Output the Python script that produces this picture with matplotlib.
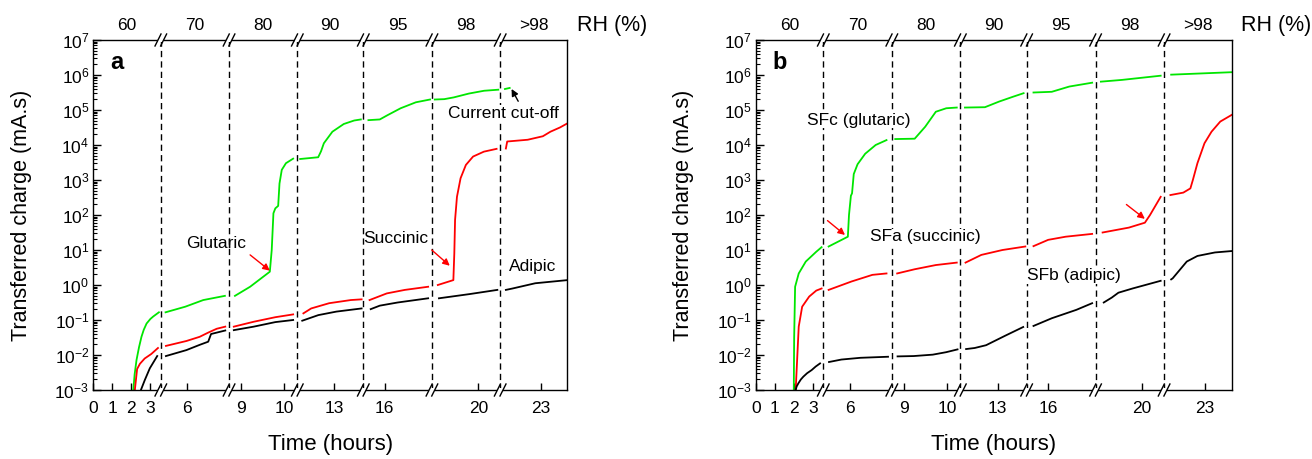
import numpy as np
import matplotlib.pyplot as plt
from matplotlib.ticker import LogLocator, NullFormatter
from matplotlib.transforms import blended_transform_factory
from matplotlib.patches import Rectangle

plt.rcParams['font.family'] = ['Liberation Sans', 'DejaVu Sans']
plt.rcParams['mathtext.default'] = 'regular'

nan = np.nan

# 分段横轴（显示单位），每段对应一个湿度台阶
rh_labels = ['60', '70', '80', '90', '95', '98', '>98']
seg_edges = [0, 3.55, 7.15, 10.75, 14.23, 17.85, 21.45, 25.0]
time_ticks = [0, 1, 2, 3, 4.95, 7.8, 10.05, 12.7, 15.35, 20.3, 23.6]
time_labels = ['0', '1', '2', '3', '6', '9', '10', '13', '16', '20', '23']

# 图 a：log10(转移电荷)，nan 处断开
a_glut_x = [2.1, 2.17, 2.27, 2.4, 2.53, 2.65, 2.8, 3.0, 3.15, 3.45, nan,
            3.8, 4.84, 5.79, 6.93, nan,
            7.46, 8.26, 9.3, 9.4, 9.49, 9.59, 9.74, 9.81, 9.93, 10.15, 10.53, nan,
            10.9, 11.85, 12.0, 12.15, 12.6, 13.2, 13.75, 14.1, nan,
            14.5, 15.1, 15.5, 16.2, 17.0, 17.75, nan,
            18.0, 18.5, 19.0, 19.8, 20.6, 21.35, nan,
            21.7, 21.95]
a_glut_lg = [-3, -2.55, -2.14, -1.78, -1.48, -1.28, -1.1, -0.97, -0.9, -0.78, nan,
             -0.78, -0.62, -0.43, -0.31, nan,
             -0.31, -0.05, 0.38, 1.0, 2.05, 2.19, 2.26, 2.9, 3.29, 3.48, 3.61, nan,
             3.6, 3.65, 3.82, 4.05, 4.38, 4.6, 4.7, 4.73, nan,
             4.71, 4.73, 4.85, 5.05, 5.22, 5.3, nan,
             5.3, 5.31, 5.36, 5.47, 5.55, 5.58, nan,
             5.6, 5.63]

a_succ_x = [2.18, 2.3, 2.45, 2.7, 3.05, 3.4, nan,
            3.82, 4.9, 5.6, 6.05, 6.5, 6.95, nan,
            7.4, 8.45, 9.59, 10.53, nan,
            11.07, 11.48, 12.43, 13.57, 14.14, nan,
            14.56, 15.47, 16.42, 17.65, nan,
            18.16, 18.98, 19.03, 19.07, 19.17, 19.36, 19.64, 20.02, 20.59, 21.26, nan,
            21.75, 21.82, 22.9, 23.7, 24.1, 24.6, 25.0]
a_succ_lg = [-3, -2.4, -2.25, -2.1, -1.97, -1.8, nan,
             -1.74, -1.6, -1.48, -1.36, -1.25, -1.19, nan,
             -1.19, -1.05, -0.92, -0.84, nan,
             -0.81, -0.67, -0.52, -0.43, -0.41, nan,
             -0.43, -0.24, -0.14, -0.05, nan,
             0.0, 0.14, 0.9, 1.86, 2.52, 3.05, 3.43, 3.67, 3.81, 3.89, nan,
             3.9, 4.1, 4.15, 4.25, 4.38, 4.5, 4.62]

a_adip_x = [2.5, 2.71, 2.97, 3.36, nan,
            3.82, 4.9, 5.6, 6.05, 6.2, 6.5, 6.95, nan,
            7.4, 8.45, 9.59, 10.53, nan,
            11.01, 11.86, 12.81, 14.14, nan,
            14.62, 15.1, 16.04, 17.65, nan,
            18.22, 19.83, 21.3, nan,
            21.75, 22.1, 23.3, 25.0]
a_adip_lg = [-3, -2.71, -2.38, -2.03, nan,
             -2.03, -1.86, -1.71, -1.62, -1.4, -1.36, -1.3, nan,
             -1.29, -1.19, -1.06, -1.0, nan,
             -1.02, -0.86, -0.76, -0.67, nan,
             -0.69, -0.59, -0.5, -0.38, nan,
             -0.38, -0.26, -0.14, nan,
             -0.14, -0.1, 0.05, 0.14]

# 图 b
b_glut_x = [2.0, 2.02, 2.07, 2.26, 2.63, 3.18, 3.46, nan,
            3.83, 4.84, 4.9, 5.0, 5.06, 5.15, 5.35, 5.75, 6.3, 6.87, nan,
            7.33, 8.35, 8.9, 9.46, 10.01, 10.56, nan,
            10.99, 12.04, 12.78, 13.52, 14.07, nan,
            14.59, 15.55, 16.47, 17.67, nan,
            18.13, 19.24, 21.27, nan,
            21.82, 25.0]
b_glut_lg = [-3, -1.5, -0.05, 0.33, 0.67, 0.95, 1.08, nan,
             1.10, 1.38, 2.0, 2.55, 2.62, 3.17, 3.45, 3.75, 4.0, 4.14, nan,
             4.17, 4.18, 4.52, 4.95, 5.05, 5.07, nan,
             5.07, 5.08, 5.24, 5.38, 5.48, nan,
             5.5, 5.52, 5.67, 5.78, nan,
             5.81, 5.86, 5.98, nan,
             6.01, 6.08]

b_succ_x = [2.1, 2.26, 2.44, 2.81, 3.18, 3.46, nan,
            3.83, 5.03, 6.13, 6.87, nan,
            7.43, 8.35, 9.46, 10.56, nan,
            11.02, 11.85, 12.96, 14.16, nan,
            14.59, 15.36, 16.28, 17.67, nan,
            18.22, 19.6, 20.44, 20.71, 21.27, nan,
            21.78, 22.46, 22.83, 22.96, 23.2, 23.57, 23.94, 24.4, 25.0]
b_succ_lg = [-3, -1.19, -0.62, -0.33, -0.16, -0.1, nan,
             -0.14, 0.10, 0.29, 0.33, nan,
             0.33, 0.45, 0.57, 0.64, nan,
             0.64, 0.86, 1.0, 1.1, nan,
             1.11, 1.29, 1.38, 1.46, nan,
             1.5, 1.64, 1.78, 2.0, 2.52, nan,
             2.57, 2.64, 2.76, 3.0, 3.48, 4.05, 4.38, 4.67, 4.86]

b_adip_x = [2.1, 2.15, 2.24, 2.37, 2.5, 2.7, 2.94, 3.15, 3.38, nan,
            3.85, 4.5, 5.5, 6.95, nan,
            7.45, 8.3, 9.3, 10.0, 10.6, nan,
            11.05, 11.5, 12.1, 13.1, 14.05, nan,
            14.59, 15.55, 16.84, 17.67, nan,
            18.28, 18.7, 19.05, 19.79, 21.27, nan,
            21.82, 21.9, 22.27, 22.64, 23.2, 24.12, 25.0]
b_adip_lg = [-3, -2.9, -2.81, -2.7, -2.62, -2.52, -2.43, -2.33, -2.24, nan,
             -2.2, -2.13, -2.08, -2.05, nan,
             -2.04, -2.03, -1.99, -1.92, -1.84, nan,
             -1.83, -1.8, -1.72, -1.45, -1.2, nan,
             -1.17, -0.95, -0.71, -0.52, nan,
             -0.5, -0.36, -0.22, -0.1, 0.12, nan,
             0.16, 0.19, 0.43, 0.67, 0.83, 0.93, 0.97]

green = '#00e600'
red = '#ff0000'

fig = plt.figure(figsize=(13.12, 4.59), dpi=100)
ax_a = fig.add_axes([93.5 / 1312, 69 / 459, 474 / 1312, 350 / 459])
ax_b = fig.add_axes([755.7 / 1312, 69 / 459, 476 / 1312, 350 / 459])


def setup_axes(ax, letter):
    ax.set_yscale('log')
    ax.set_ylim(1e-3, 1e7)
    ax.set_xlim(seg_edges[0], seg_edges[-1])
    ax.yaxis.set_major_locator(LogLocator(base=10, numticks=20))
    ax.yaxis.set_minor_locator(LogLocator(base=10, subs=np.arange(2, 10), numticks=20))
    ax.yaxis.set_minor_formatter(NullFormatter())
    ax.set_xticks(time_ticks)
    ax.set_xticklabels(time_labels)
    ax.tick_params(axis='x', which='both', direction='in', top=False, length=5, width=1,
                   labelsize=12.5, pad=8)
    ax.tick_params(axis='y', which='major', direction='in', right=False, length=6, width=1,
                   labelsize=12.5, pad=3)
    ax.tick_params(axis='y', which='minor', direction='in', right=False, length=3, width=0.8)
    for sp in ax.spines.values():
        sp.set_linewidth(1.0)

    trans = blended_transform_factory(ax.transData, ax.transAxes)
    bb = ax.get_position()
    du = (seg_edges[-1] - seg_edges[0]) / (bb.width * fig.get_figwidth() * fig.dpi)
    dv = 1.0 / (bb.height * fig.get_figheight() * fig.dpi)
    for xb in seg_edges[1:-1]:
        ax.axvline(xb, color='k', lw=1.0, ls=(0, (4.5, 3)), zorder=1)
        # 断轴标记 //
        for yb in (0, 1):
            ax.add_patch(Rectangle((xb - 2.8 * du, yb - 2 * dv), 5.6 * du, 4 * dv,
                                   transform=trans, facecolor='white', edgecolor='none',
                                   clip_on=False, zorder=5))
            for s in (-2.8, 2.8):
                ax.plot([xb + (s - 3) * du, xb + (s + 3) * du], [yb - 6 * dv, yb + 6 * dv],
                        color='k', lw=1.0, transform=trans, clip_on=False, zorder=6)
    # 顶部湿度标签
    for i, lab in enumerate(rh_labels):
        xc = 0.5 * (seg_edges[i] + seg_edges[i + 1])
        ax.text(xc, 1.04, lab, transform=trans, ha='center', va='center', fontsize=12.5)
    ax.text(1.02, 1.04, 'RH (%)', transform=ax.transAxes, ha='left', va='center', fontsize=15.5)
    ax.text(0.05, 0.935, letter, transform=ax.transAxes, ha='center', va='center',
            fontsize=17, fontweight='bold')
    ax.text(0.5, -0.157, 'Time (hours)', transform=ax.transAxes, ha='center', va='center',
            fontsize=16)
    ax.text(-0.152, 0.5, 'Transferred charge (mA.s)', transform=ax.transAxes, rotation=90,
            ha='center', va='center', fontsize=15.5)


def red_arrow(ax, tail, head, color=red):
    ax.annotate('', xy=head, xytext=tail,
                arrowprops=dict(arrowstyle='-|>', color=color, lw=1.0, mutation_scale=10,
                                shrinkA=0, shrinkB=0))


# 图 a
setup_axes(ax_a, 'a')
ax_a.plot(a_glut_x, 10.0 ** np.array(a_glut_lg), color=green, lw=1.3)
ax_a.plot(a_succ_x, 10.0 ** np.array(a_succ_lg), color=red, lw=1.3)
ax_a.plot(a_adip_x, 10.0 ** np.array(a_adip_lg), color='k', lw=1.3)
ax_a.text(6.49, 10 ** 1.19, 'Glutaric', ha='center', va='center', fontsize=12.5)
ax_a.text(15.92, 10 ** 1.33, 'Succinic', ha='center', va='center', fontsize=12.5)
ax_a.text(23.14, 10 ** 0.52, 'Adipic', ha='center', va='center', fontsize=12.5)
ax_a.text(21.6, 10 ** 4.91, 'Current cut-off', ha='center', va='center', fontsize=12.5,
          bbox=dict(facecolor='white', edgecolor='none', pad=0.5))
red_arrow(ax_a, (8.26, 10 ** 0.86), (9.3, 10 ** 0.41))
red_arrow(ax_a, (17.84, 10 ** 1.0), (18.79, 10 ** 0.55))
red_arrow(ax_a, (22.4, 10 ** 5.25), (22.05, 10 ** 5.6), color='k')

# 图 b
setup_axes(ax_b, 'b')
ax_b.plot(b_glut_x, 10.0 ** np.array(b_glut_lg), color=green, lw=1.3)
ax_b.plot(b_succ_x, 10.0 ** np.array(b_succ_lg), color=red, lw=1.3)
ax_b.plot(b_adip_x, 10.0 ** np.array(b_adip_lg), color='k', lw=1.3)
ax_b.text(5.41, 10 ** 4.71, 'SFc (glutaric)', ha='center', va='center', fontsize=12.5,
          bbox=dict(facecolor='white', edgecolor='none', pad=0.5))
ax_b.text(8.92, 10 ** 1.38, 'SFa (succinic)', ha='center', va='center', fontsize=12.5,
          bbox=dict(facecolor='white', edgecolor='none', pad=0.5))
ax_b.text(16.69, 10 ** 0.27, 'SFb (adipic)', ha='center', va='center', fontsize=12.5,
          bbox=dict(facecolor='white', edgecolor='none', pad=0.5))
red_arrow(ax_b, (3.77, 10 ** 1.84), (4.69, 10 ** 1.43))
red_arrow(ax_b, (19.47, 10 ** 2.30), (20.44, 10 ** 1.89))

fig.savefig('out.png', dpi=100)
